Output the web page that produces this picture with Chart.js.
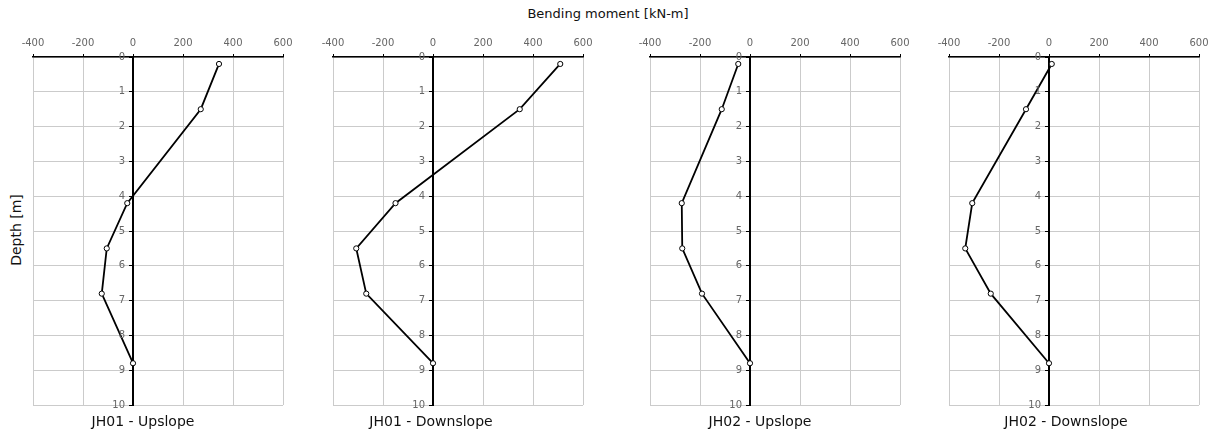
<!DOCTYPE html>
<html>
<head>
<meta charset="utf-8">
<script src="https://cdn.jsdelivr.net/npm/chart.js@4/dist/chart.umd.min.js"></script>
<style>
  body { margin: 0; background: #fff; font-family: "DejaVu Sans", sans-serif; }
  #wrap { position: relative; width: 1209px; height: 434px; overflow: hidden; }
  canvas { position: absolute; top: 0; }
  .lbl { position: absolute; color: #111; white-space: nowrap; }
</style>
</head>
<body>
<div id="wrap">
  <div class="lbl" style="left:0;width:1216px;top:6px;text-align:center;font-size:13px;">Bending moment [kN-m]</div>
  <div class="lbl" style="left:-24px;top:222px;font-size:14px;transform:rotate(-90deg);width:80px;text-align:center;">Depth [m]</div>
</div>
<script>
// depth of the measurement points [m]
const depths = [0.2, 1.5, 4.2, 5.5, 6.8, 8.8];

// bending moment [kN-m] per pile
const jh01Up = [344, 271, -23, -105, -125, 0];
const jh01Down = [509, 347, -150, -307, -267, 0];
const jh02Up = [-47, -113, -273, -271, -192, 0];
const jh02Down = [11, -92, -307, -335, -233, 0];

const xTicks = [-400, -200, 0, 200, 400, 600];
const yTicks = [0, 1, 2, 3, 4, 5, 6, 7, 8, 9, 10];

const panels = [
    { title: 'JH01 - Upslope', values: jh01Up, left: 33, titleX: 143 },
    { title: 'JH01 - Downslope', values: jh01Down, left: 333, titleX: 431 },
    { title: 'JH02 - Upslope', values: jh02Up, left: 650, titleX: 760 },
    { title: 'JH02 - Downslope', values: jh02Down, left: 949, titleX: 1066 },
];

const wrap = document.getElementById('wrap');
const pad = 25;

// depth labels sit right-aligned just left of the zero line
const depthLabels = {
    id: 'depthLabels',
    afterDraw(chart) {
        let ctx = chart.ctx;
        let xs = chart.scales.x;
        let ys = chart.scales.y;
        let x0 = xs.getPixelForValue(0) - 8;
        ctx.save();
        ctx.font = '10px "DejaVu Sans"';
        ctx.fillStyle = '#666';
        ctx.textAlign = 'right';
        ctx.textBaseline = 'middle';
        yTicks.forEach(function (v) {
            ctx.fillText(String(v), x0, ys.getPixelForValue(v));
        });
        ctx.restore();
    }
};

panels.forEach(function (p, i) {
    let canvas = document.createElement('canvas');
    canvas.id = 'panel' + i;
    canvas.width = 250 + pad * 2;
    canvas.height = 434;
    canvas.style.left = (p.left - pad) + 'px';
    wrap.appendChild(canvas);

    let t = document.createElement('div');
    t.className = 'lbl';
    t.style.fontSize = '14px';
    t.style.top = '413px';
    t.style.left = (p.titleX - 100) + 'px';
    t.style.width = '200px';
    t.style.textAlign = 'center';
    t.textContent = p.title;
    wrap.appendChild(t);

    let points = depths.map(function (d, k) { return { x: p.values[k], y: d }; });

    new Chart(canvas.getContext('2d'), {
        type: 'scatter',
        data: {
            datasets: [{
                data: points,
                showLine: true,
                borderColor: '#000',
                borderWidth: 1.8,
                pointRadius: 2.6,
                pointBackgroundColor: '#fff',
                pointBorderColor: '#000',
                pointBorderWidth: 1,
                tension: 0,
            }],
        },
        options: {
            responsive: false,
            animation: false,
            devicePixelRatio: 1,
            layout: { padding: { top: 31, bottom: 29, left: pad, right: pad } },
            plugins: { legend: { display: false }, tooltip: { enabled: false } },
            scales: {
                x: {
                    type: 'linear',
                    position: 'top',
                    min: xTicks[0],
                    max: xTicks[xTicks.length - 1],
                    afterBuildTicks: function (scale) {
                        scale.ticks = xTicks.map(function (v) { return { value: v }; });
                    },
                    afterFit: function (scale) { scale.height = 26; },
                    ticks: {
                        color: '#666',
                        padding: 5,
                        maxRotation: 0,
                        font: { family: 'DejaVu Sans', size: 10 },
                    },
                    grid: { color: '#cbcbcb', lineWidth: 1, tickColor: '#000', tickLength: 3 },
                    border: { color: '#000', width: 1.5 },
                },
                y: {
                    type: 'linear',
                    position: { x: 0 },
                    reverse: true,
                    min: yTicks[0],
                    max: yTicks[yTicks.length - 1],
                    afterBuildTicks: function (scale) {
                        scale.ticks = yTicks.map(function (v) { return { value: v }; });
                    },
                    ticks: { display: false },
                    grid: { color: '#cbcbcb', lineWidth: 1, tickColor: '#000', tickLength: 3 },
                    border: { color: '#000', width: 2 },
                },
            },
        },
        plugins: [depthLabels],
    });
});
</script>
</body>
</html>
